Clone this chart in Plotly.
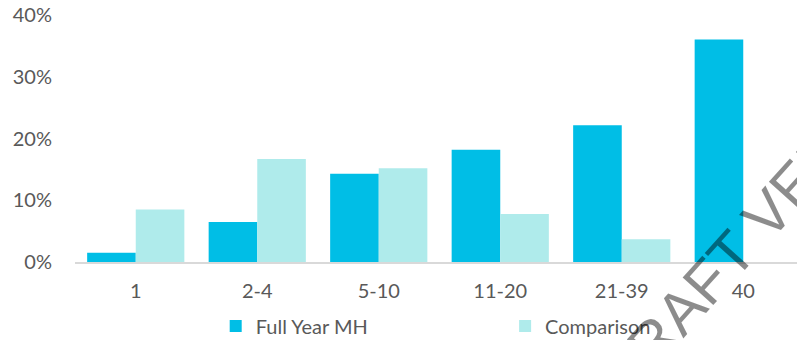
import plotly.graph_objects as go

categories = ["1", "2-4", "5-10", "11-20", "21-39", "40"]
full_year_mh = [1.5, 6.5, 14.3, 18.2, 22.2, 36.1]
comparison = [8.5, 16.7, 15.2, 7.8, 3.7, 0]
y_ticks = [0, 10, 20, 30, 40]
y_tick_labels = ["0%", "10%", "20%", "30%", "40%"]

FONT = "Lato"
GREY = "#595959"

fig = go.Figure()
fig.add_trace(go.Bar(x=categories, y=full_year_mh, name="Full Year MH",
                     marker=dict(color="#00BEE6", line=dict(width=0)),
                     legend="legend"))
fig.add_trace(go.Bar(x=categories, y=comparison, name="Comparison",
                     marker=dict(color="#AFEBEB", line=dict(width=0)),
                     legend="legend2"))

legend_common = dict(orientation="h", yanchor="top", xanchor="left",
                     font=dict(family=FONT, size=20, color=GREY),
                     bgcolor="rgba(0,0,0,0)", itemclick=False, itemdoubleclick=False)

# page body has an 8px margin, so the figure is drawn 8px smaller
fig.update_layout(
    width=797, height=332,
    margin=dict(l=67, r=1, t=0, b=78, autoexpand=False),
    paper_bgcolor="white", plot_bgcolor="white",
    barmode="group", bargap=0.2, bargroupgap=0,
    font=dict(family=FONT, size=20, color=GREY),
    showlegend=True,
    legend=dict(x=0.193, y=-0.175, **legend_common),
    legend2=dict(x=0.59, y=-0.175, **legend_common),
    xaxis=dict(showgrid=False, showline=True, linecolor="#D9D9D9", linewidth=2,
               ticks="", tickfont=dict(family=FONT, size=20, color=GREY),
               ticklabelstandoff=10, zeroline=False),
    yaxis=dict(range=[0, 41.2], tickvals=y_ticks, ticktext=y_tick_labels,
               showgrid=False, showline=False, zeroline=False, ticks="",
               tickfont=dict(family=FONT, size=20, color=GREY),
               ticklabelstandoff=22, ticklabeloverflow="allow"),
)

fig.add_annotation(text="DRAFT VERSION", xref="paper", yref="paper",
                   x=0.9575, y=0.209, xanchor="center", yanchor="middle",
                   showarrow=False, textangle=-48,
                   font=dict(family="Liberation Sans", size=60, color="rgba(0,0,0,0.45)"))

fig.write_html("out.html")
